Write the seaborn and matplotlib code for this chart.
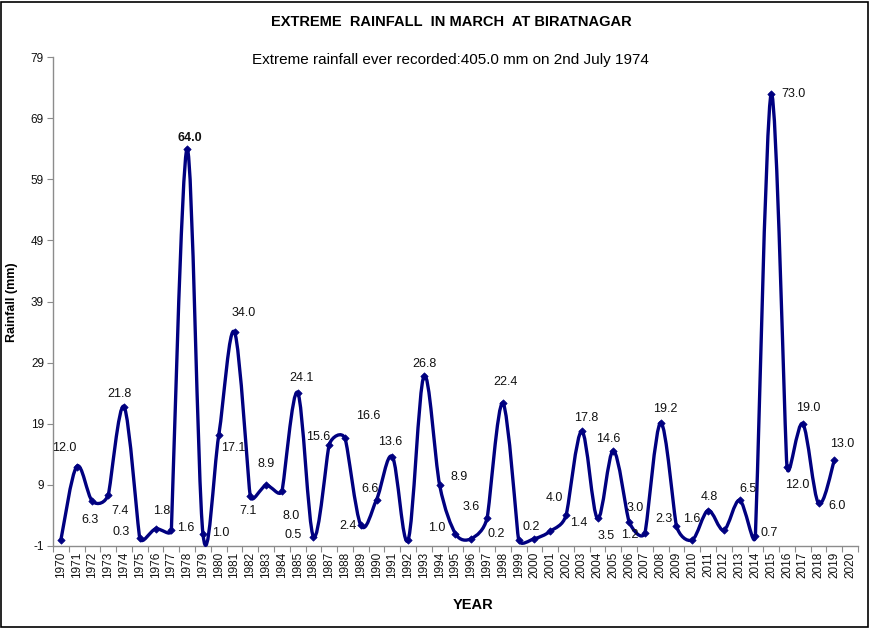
import numpy as np
import matplotlib
matplotlib.use("Agg")
import matplotlib.pyplot as plt
import seaborn as sns
from matplotlib.path import Path
from matplotlib.patches import PathPatch, Rectangle

# ---------------- data ----------------
years = list(range(1970, 2020))
tick_years = list(range(1970, 2021))
rainfall = [0.0, 12.0, 6.3, 7.4, 21.8, 0.3, 1.8, 1.6, 64.0, 1.0,
            17.1, 34.0, 7.1, 8.9, 8.0, 24.1, 0.5, 15.6, 16.6, 2.4,
            6.6, 13.6, 0.0, 26.8, 8.9, 1.0, 0.2, 3.6, 22.4, 0.0,
            0.2, 1.4, 4.0, 17.8, 3.5, 14.6, 3.0, 1.2, 19.2, 2.3,
            0.0, 4.8, 1.6, 6.5, 0.7, 73.0, 12.0, 19.0, 6.0, 13.0]
unlabelled_years = [1970, 1992, 1999, 2010]
yticks = [-1, 9, 19, 29, 39, 49, 59, 69, 79]
title = "EXTREME  RAINFALL  IN MARCH  AT BIRATNAGAR"
subtitle = "Extreme rainfall ever recorded:405.0 mm on 2nd July 1974"

# label placement (pixel offsets dx, dy-down) per year
label_offsets = {
    1971: (-12, -19), 1972: (-2, 19), 1973: (12, 16), 1974: (-5, -13),
    1975: (-19, -6), 1976: (6, -18), 1977: (14, -2), 1978: (3, -11),
    1979: (18, -1), 1980: (15, 13), 1981: (9, -19), 1982: (-2, 15),
    1983: (0, -21), 1984: (9, 25), 1985: (4, -15), 1986: (-20, -2),
    1987: (-11, -8), 1988: (23, -22), 1989: (-13, 1), 1990: (-7, -11),
    1991: (-2, -15), 1993: (1, -12), 1994: (19, -8), 1995: (-19, -6),
    1996: (25, -5), 1997: (-16, -11), 1998: (3, -21), 2000: (-3, -12),
    2001: (29, -8), 2002: (-12, -17), 2003: (4, -13), 2004: (9, 18),
    2005: (-5, -12), 2006: (6, -14), 2007: (-15, 2), 2008: (5, -14),
    2009: (-13, -7), 2011: (1, -14), 2012: (-32, -11), 2013: (8, -11),
    2014: (14, -3), 2015: (22, 0), 2016: (10, 18), 2017: (5, -16),
    2018: (19, 3), 2019: (8, -16),
}

# ---------------- style ----------------
sns.set_theme(style="white")
plt.rcParams["font.family"] = ["Liberation Sans", "DejaVu Sans"]
navy = "#000080"
grey = "#8c8c8c"

fig = plt.figure(figsize=(8.7, 6.28), dpi=100)
ax_w_px, ax_h_px = 805, 489
ax = fig.add_axes([53 / 870, 1 - 546 / 628, ax_w_px / 870, ax_h_px / 628])
ax.set_xlim(-0.5, len(tick_years) - 0.5)
ax.set_ylim(yticks[0], yticks[-1])

# smooth Excel-style bezier line through the data (computed in screen space)
sx = ax_w_px / len(tick_years)
sy = ax_h_px / (yticks[-1] - yticks[0])
xs = np.arange(len(rainfall), dtype=float)
ys = np.array(rainfall, dtype=float)
S = np.column_stack([xs * sx, ys * sy])
n = len(S)
tang = np.zeros_like(S)
for i in range(n):
    p0 = S[max(i - 1, 0)]
    p1 = S[i]
    p2 = S[min(i + 1, n - 1)]
    d02 = np.hypot(*(p2 - p0))
    d01 = np.hypot(*(p1 - p0))
    d12 = np.hypot(*(p2 - p1))
    if d02 == 0:
        continue
    f = 1.0 / 6.0
    if i > 0 and i < n - 1:
        if not (d02 / 6 < d01 / 2 and d02 / 6 < d12 / 2):
            f = min(d01, d12) / (2 * d02)
    tang[i] = f * (p2 - p0)
verts = [S[0]]
codes = [Path.MOVETO]
for i in range(n - 1):
    verts += [S[i] + tang[i], S[i + 1] - tang[i + 1], S[i + 1]]
    codes += [Path.CURVE4] * 3
verts = np.array(verts) / np.array([sx, sy])
patch = PathPatch(Path(verts, codes), fill=False, edgecolor=navy, lw=2.4,
                  capstyle="round", joinstyle="round", zorder=3, clip_on=False)
ax.add_patch(patch)

sns.scatterplot(x=xs, y=ys, marker="D", s=14, color=navy, edgecolor=navy,
                linewidth=0.5, zorder=4, ax=ax, clip_on=False, legend=False)

# data labels
for i, (yr, v) in enumerate(zip(years, rainfall)):
    if yr in unlabelled_years:
        continue
    dx, dy = label_offsets[yr]
    ax.annotate(f"{v:.1f}", (i, v), xytext=(dx, -dy), textcoords="offset pixels",
                ha="center", va="center", fontsize=9, color="#111111",
                fontweight="bold" if yr == 1978 else "normal", zorder=5)

# axes
ax.set_yticks(yticks)
ax.set_yticklabels([str(t) for t in yticks], fontsize=8.5, color="#111111")
ax.set_xticks(np.arange(len(tick_years)))
ax.set_xticklabels([str(t) for t in tick_years], rotation=90, fontsize=8.5,
                   color="#111111")
ax.set_xticks(np.arange(len(tick_years) + 1) - 0.5, minor=True)
ax.tick_params(axis="x", which="major", length=0, pad=4)
ax.tick_params(axis="x", which="minor", length=4, width=0.8, color=grey,
               direction="out", bottom=True)
ax.tick_params(axis="y", which="major", length=4, width=0.8, color=grey,
               direction="out", left=True, pad=2.5)
for s in ["top", "right"]:
    ax.spines[s].set_visible(False)
for s in ["left", "bottom"]:
    ax.spines[s].set_color(grey)
    ax.spines[s].set_linewidth(1.0)
ax.grid(False)
ax.set_facecolor("white")

# texts
fig.text(451 / 870, 1 - 22 / 628, title, ha="center", va="center",
         fontsize=10.5, fontweight="bold", color="black")
fig.text(450 / 870, 1 - 60 / 628, subtitle, ha="center", va="center",
         fontsize=11, color="black")
fig.text(12 / 870, 1 - 302 / 628, "Rainfall (mm)", ha="center", va="center",
         rotation=90, fontsize=9, fontweight="bold", color="black")
fig.text(473 / 870, 1 - 605 / 628, "YEAR", ha="center", va="center",
         fontsize=10.5, fontweight="bold", color="black")

fig.patches.append(Rectangle((0.0015, 0.002), 0.9965, 0.995, transform=fig.transFigure,
                             fill=False, lw=1.2, ec="black"))

fig.savefig("out.png", dpi=100, facecolor="white")
